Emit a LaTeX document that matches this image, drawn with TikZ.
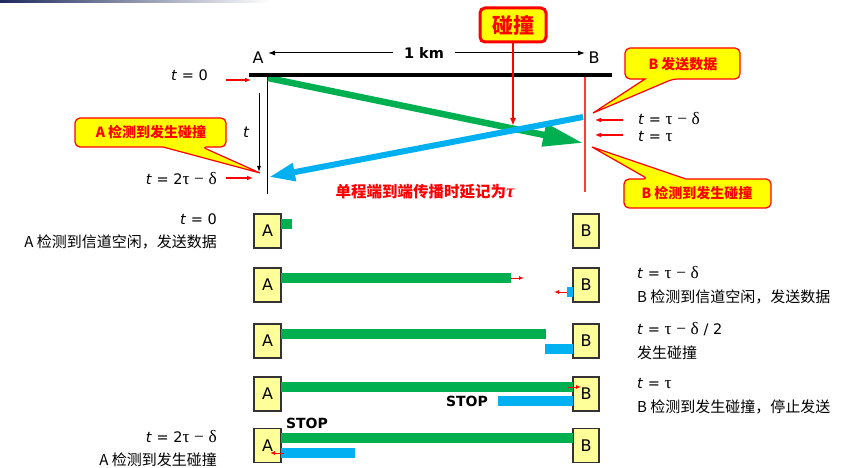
\documentclass[tikz,border=0pt]{standalone}
\usepackage{fontspec}
\setmainfont{DejaVu Sans}
\newfontfamily\cjk{Noto Sans CJK SC}
\newfontfamily\grk[Scale=1.2]{Liberation Serif}
\usetikzlibrary{arrows.meta}
\definecolor{pgreen}{HTML}{00B050}
\definecolor{pblue}{HTML}{00B0F0}
\definecolor{pred}{HTML}{FF0000}
\definecolor{pline}{HTML}{FF3B3B}
\definecolor{pyel}{HTML}{FFFF00}
\definecolor{boxyel}{HTML}{FFFF99}
\definecolor{navy}{HTML}{1F2A5C}
\newcommand\ti{\textit{t}}
\newcommand\mtau{{\grk τ}}
\newcommand\mdel{{\grk δ}}
\newcommand\mminus{{\grk −}}
\begin{document}
\begin{tikzpicture}[x=1pt,y=-1pt,
  lbl/.style={inner sep=0pt, font=\fontsize{14.5}{17}\selectfont},
  cn/.style={inner sep=0pt, font=\cjk\fontsize{15}{18}\selectfont},
  callout/.style={draw=pred, line width=1.2pt, fill=pyel},
  calltext/.style={inner sep=0pt, text=pred, font=\cjk\bfseries\fontsize{14}{16}\selectfont},
  abox/.style={draw=black!80, line width=1.2pt, fill=boxyel, minimum width=27pt, minimum height=34pt, inner sep=0pt, font=\fontsize{16}{18}\selectfont},
  redarr/.style={pred, line width=1.6pt, -{Latex[length=6pt,width=5pt]}},
  smallarr/.style={pred, line width=1pt, -{Latex[length=5pt,width=4pt]}},
  stoptext/.style={inner sep=0pt, font=\bfseries\fontsize{14}{16}\selectfont},
  gbar/.style={fill=pgreen},
  bbar/.style={fill=pblue},
]
\useasboundingbox (0,0) rectangle (844,468);
\shade[left color=navy, right color=white] (0,0) rectangle (270,2.5);

% ---------- upper diagram ----------
\node[inner sep=0pt, font=\fontsize{16}{18}\selectfont] (Atop) at (258,58) {A};
\node[inner sep=0pt, font=\fontsize{16}{18}\selectfont] (Btop) at (594,58) {B};
\node[inner ysep=0pt, inner xsep=11pt, font=\bfseries\fontsize{14.5}{16}\selectfont] (km) at (424,53) {1 km};
\coordinate (kmL) at (268,53);
\coordinate (kmR) at (585,53);
\draw[line width=1pt, -{Latex[length=7pt,width=5pt]}] (km.west) -- (kmL);
\draw[line width=1pt, -{Latex[length=7pt,width=5pt]}] (km.east) -- (kmR);

% vertical station lines
\coordinate (Aup) at (267,75);
\coordinate (Adn) at (267,194);
\coordinate (Bup) at (585,77);
\coordinate (Bdn) at (585,192);
\draw[line width=1pt] (Aup) -- (Adn);
\draw[pline, line width=1.2pt] (Bup) -- (Bdn);

% signals
\coordinate (gS) at (268,78);
\coordinate (gE) at (583,143);
\coordinate (bS) at (583,117);
\coordinate (bE) at (269,177);
\draw[pgreen, line width=6.5pt, -{Triangle[length=40pt,width=22pt]}] (gS) -- (gE);
\draw[pblue, line width=6pt, -{Triangle[length=26pt,width=17pt]}] (bS) -- (bE);

% bus line
\coordinate (busL) at (249,75);
\coordinate (busR) at (612,75);
\draw[line width=3.5pt] (busL) -- (busR);

% collision marker
\node[draw=pred, line width=3pt, fill=pyel, rounded corners=5pt, minimum width=66pt, minimum height=34pt, inner sep=0pt, text=pred, font=\cjk\bfseries\fontsize{21}{24}\selectfont] (col) at (513,25) {碰撞};
\coordinate (hit) at (513,126);
\draw[pred, line width=2pt, -{Latex[length=8pt,width=6pt]}] (col.south) -- (hit);

% time labels and red arrows
\node[lbl, anchor=east] (t0) at (208,75) {\ti\ = 0};
\coordinate (r0a) at (226,80); \coordinate (r0b) at (251,80);
\draw[redarr] (r0a) -- (r0b);
\node[lbl, anchor=east] (t2) at (217,179) {\ti\ = 2\mtau\ \mminus\ \mdel};
\coordinate (r1a) at (226,178); \coordinate (r1b) at (253,178);
\draw[redarr] (r1a) -- (r1b);
\node[lbl, anchor=west] (tb1) at (638,119) {\ti\ = \mtau\ \mminus\ \mdel};
\coordinate (r2a) at (623,120); \coordinate (r2b) at (595,120);
\draw[redarr] (r2a) -- (r2b);
\node[lbl, anchor=west] (tb2) at (638,136) {\ti\ = \mtau};
\coordinate (r3a) at (623,135); \coordinate (r3b) at (595,135);
\draw[redarr] (r3a) -- (r3b);

% time axis
\node[inner sep=0pt, font=\itshape\fontsize{15}{17}\selectfont] (tlab) at (246,132) {t};
\coordinate (tA) at (259,93); \coordinate (tB) at (259,172);
\draw[line width=0.8pt, -{Latex[length=6pt,width=4pt]}] (tA) -- (tB);

% callouts
\path[callout] (75,132) [rounded corners=5pt] -- (75,118) -- (226,118) -- (226,147) -- (202,147) [sharp corners] -- (260,173) -- (163,147) [rounded corners=5pt] -- (75,147) -- cycle;
\node[calltext] (cA) at (151,132) {A 检测到发生碰撞};
\path[callout] (625,64) [rounded corners=5pt] -- (625,48) -- (740,48) -- (740,79) -- (673,79) [sharp corners] -- (593,113) -- (645,79) [rounded corners=5pt] -- (625,79) -- cycle;
\node[calltext] (cB1) at (683,64) {B 发送数据};
\path[callout] (624,193) [rounded corners=5pt] -- (624,179) -- (648,179) [sharp corners] -- (592,147) -- (686,179) [rounded corners=5pt] -- (771,179) -- (771,208) -- (624,208) -- cycle;
\node[calltext] (cB2) at (697,193) {B 检测到发生碰撞};

\node[inner sep=0pt, text=pred, font=\cjk\bfseries\fontsize{15.5}{18}\selectfont] (prop) at (425,192) {单程端到端传播时延记为{\grk\bfseries\itshape τ}};

% ---------- lower rows ----------
\foreach \r/\y in {1/231,2/285,3/341,4/394,5/445.5}{
  \node[abox] (A\r) at (267.5,\y) {A};
  \node[abox, minimum width=26pt] (B\r) at (586,\y) {B};
}
% row 1
\fill[gbar] (281,219) rectangle (292,229);
\node[lbl, anchor=east] (l1a) at (217,219) {\ti\ = 0};
\node[cn, anchor=east] (l1b) at (217,242) {A 检测到信道空闲，发送数据};
% row 2
\fill[gbar] (281,273) rectangle (511,283);
\coordinate (s2a) at (511,278); \coordinate (s2b) at (524,278);
\draw[smallarr] (s2a) -- (s2b);
\fill[bbar] (567,287) rectangle (573,297);
\coordinate (s2c) at (567,292); \coordinate (s2d) at (554,292);
\draw[smallarr] (s2c) -- (s2d);
\node[lbl, anchor=west] (l2a) at (637,273) {\ti\ = \mtau\ \mminus\ \mdel};
\node[cn, anchor=west] (l2b) at (637,297) {B 检测到信道空闲，发送数据};
% row 3
\fill[gbar] (281,329) rectangle (546,339);
\fill[bbar] (545,344) rectangle (573,354);
\node[lbl, anchor=west] (l3a) at (637,329) {\ti\ = \mtau\ \mminus\ \mdel\ / 2};
\node[cn, anchor=west] (l3b) at (637,353) {发生碰撞};
% row 4
\fill[gbar] (281,382) rectangle (573,392);
\fill[bbar] (498,396) rectangle (573,406);
\coordinate (s4a) at (568,387); \coordinate (s4b) at (581,387);
\draw[smallarr] (s4a) -- (s4b);
\node[stoptext] (stop1) at (467,401) {STOP};
\node[lbl, anchor=west] (l4a) at (637,383) {\ti\ = \mtau};
\node[cn, anchor=west] (l4b) at (637,407) {B 检测到发生碰撞，停止发送};
% row 5
\fill[gbar] (281,433) rectangle (573,443);
\fill[bbar] (281,448) rectangle (355,458);
\coordinate (s5a) at (284,453); \coordinate (s5b) at (270,453);
\draw[smallarr] (s5a) -- (s5b);
\node[stoptext] (stop2) at (307,423) {STOP};
\node[lbl, anchor=east] (l5a) at (217,437) {\ti\ = 2\mtau\ \mminus\ \mdel};
\node[cn, anchor=east] (l5b) at (217,460) {A 检测到发生碰撞};
\end{tikzpicture}
\end{document}
